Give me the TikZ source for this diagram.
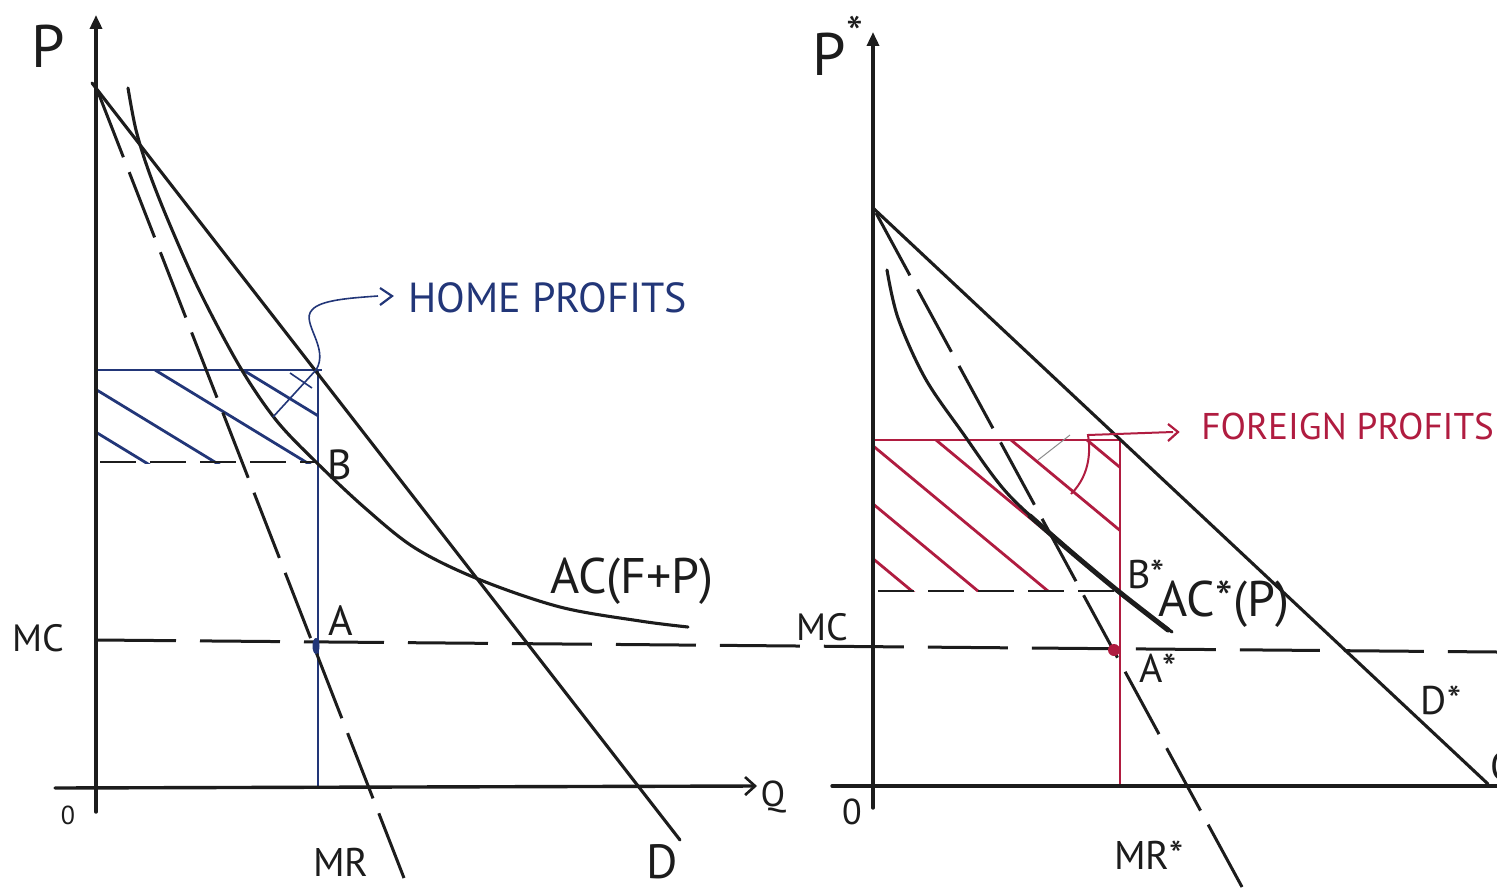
\documentclass[tikz,border=0pt]{standalone}
\usepackage{fontspec}
\setmainfont{PT Sans}
\usetikzlibrary{arrows.meta}
\definecolor{homeblue}{RGB}{34,54,120}
\definecolor{forred}{RGB}{176,28,64}
\definecolor{ink}{RGB}{28,28,28}
\begin{document}
\begin{tikzpicture}[x=0.5pt,y=-0.5pt,
  axisline/.style={line width=1.7pt, draw=ink, line cap=round},
  curveline/.style={line width=1.55pt, draw=ink, line cap=round},
  mrdash/.style={line width=1.5pt, draw=ink, dash pattern=on 35pt off 8pt},
  mrsdash/.style={line width=1.5pt, draw=ink, dash pattern=on 35.5pt off 8pt},
  mcdash/.style={line width=1.5pt, draw=ink, dash pattern=on 40pt off 12pt},
  shortdash/.style={line width=1.4pt, draw=ink, dash pattern=on 18pt off 7pt},
  blueline/.style={line width=1.4pt, draw=homeblue},
  redline/.style={line width=1.4pt, draw=forred},
  lab/.style={inner sep=0pt, text=ink},
  bluelab/.style={inner sep=0pt, text=homeblue},
  redlab/.style={inner sep=0pt, text=forred},
  uptip/.style={-{Triangle[length=7pt,width=6pt]}},
  barb/.style={-{Straight Barb[length=5pt,width=9pt,line width=1.3pt]}}
]
\useasboundingbox (0,0) rectangle (1497,893);
\fill[white] (0,0) rectangle (1497,893);

% ---------------- key coordinates ----------------
\coordinate (Lbot) at (96,812);
\coordinate (Ltop) at (96,15);
\coordinate (Lxs) at (55,788);
\coordinate (Lxe) at (757,786);
\coordinate (Rbot) at (873,808);
\coordinate (Rtop) at (873,32);
\coordinate (Rxs) at (832,786);
\coordinate (Rxe) at (1497,786);
\coordinate (MCs) at (96,640);
\coordinate (MCe) at (1497,652);
\coordinate (Ds) at (92,83);
\coordinate (De) at (680,840);
\coordinate (MRs) at (98,92);
\coordinate (MRe) at (404,878);
\coordinate (Dss) at (873,208);
\coordinate (Dse) at (1488,784);
\coordinate (MRss) at (876,213);
\coordinate (MRse) at (1242,887);
\coordinate (ptB) at (316,462);
\coordinate (ptA) at (316,646);
\coordinate (ptBs) at (1118,591);
\coordinate (ptAs) at (1114,650);

% ---------------- MC line (across both panels) ----------------
\draw[mcdash] (MCs) -- (MCe);

% ---------------- left panel ----------------
% blue hatching (home profits)
\begin{scope}
  \clip (96,370) rectangle (318,463);
  \foreach \x in {-6,64,155,243}
    \draw[blueline] (\x,370) -- ++(200,122);
\end{scope}
\draw[blueline] (96,370) -- (322,370);
\draw[blueline] (318,370) -- (318,788);
\draw[shortdash] (100,462) -- (ptB);

% axes
\draw[axisline,uptip] (Lbot) -- (Ltop);
\draw[axisline,barb] (Lxs) -- (Lxe);

% demand, MR, AC
\draw[curveline] (Ds) -- (De);
\draw[mrdash] (MRs) -- (MRe);
\draw[curveline] plot[smooth, tension=0.55] coordinates {(128,88) (136,130) (149,172) (170,225) (200,292) (240,367) (276,420) (316,462) (365,508) (415,548) (478,579) (560,607) (640,621) (688,627)};

% point A
\fill[homeblue] (ptA) ellipse (3.5 and 8);

% home profits arrow
\draw[homeblue, line width=0.8pt] (273,417) -- (316,370) .. controls (330,348) and (300,322) .. (312,310) .. controls (320,300) and (350,298) .. (378,296);
\draw[homeblue, line width=0.8pt] (290,373) -- (312,388);
\draw[homeblue, line width=1.1pt] (380,288) -- (392,296) -- (380,305);

% labels left
\node[lab, font=\fontsize{30}{30}\selectfont] (Plab) at (48,46) {P};
\node[lab, font=\fontsize{13}{13}\selectfont] (O1lab) at (68,815) {0};
\node[lab, font=\fontsize{19}{19}\selectfont] (MC1lab) at (38,638) {MC};
\node[lab, font=\fontsize{21}{21}\selectfont] (Alab) at (341,621) {A};
\node[lab, font=\fontsize{21}{21}\selectfont] (Blab) at (340,465) {B};
\node[lab, font=\fontsize{25}{25}\selectfont] (AClab) at (632,581) {AC(F+P)};
\node[lab, font=\fontsize{20}{20}\selectfont] (MRlab) at (341,862) {MR};
\node[lab, font=\fontsize{24}{24}\selectfont] (Dlab) at (662,862) {D};
\node[lab, font=\fontsize{18}{18}\selectfont] (Qlab) at (773,797) {Q};
\node[bluelab, font=\fontsize{21}{21}\selectfont, anchor=west] (homelab) at (408,298) {HOME PROFITS};

% ---------------- right panel ----------------
% red hatching (foreign profits)
\begin{scope}
  \clip (873,440) rectangle (1120,591);
  \foreach \x in {730,796,866,936,1011,1087}
    \draw[redline] (\x,440) -- ++(250,207.5);
\end{scope}
\draw[redline] (873,440) -- (1122,440);
\draw[redline] (1120,440) -- (1120,786);
\draw[shortdash] (878,591) -- (ptBs);

% axes
\draw[axisline,uptip] (Rbot) -- (Rtop);
\draw[axisline] (Rxs) -- (Rxe);

% demand, MR, AC
\draw[curveline] (Dss) -- (Dse);
\draw[mrsdash] (MRss) -- (MRse);
\draw[curveline] plot[smooth, tension=0.55] coordinates {(887,270) (898,318) (925,378) (962,432) (1007,493) (1064,545) (1118,591) (1172,632)};
\draw[line width=2.5pt, draw=ink, line cap=round] plot[smooth, tension=0.5] coordinates {(1030,516) (1070,551) (1118,591) (1168,630)};

% point A*
\fill[forred] (ptAs) circle (6);

% foreign profits arrow
\draw[black!45, line width=0.5pt] (1038,460) -- (1070,435);
\draw[forred, line width=1pt] (1071,494) .. controls (1085,480) and (1092,460) .. (1088,435) -- (1173,432);
\draw[forred, line width=1.1pt] (1168,424) -- (1178,432) -- (1168,441);

% labels right
\node[lab, font=\fontsize{30}{30}\selectfont] (Pslab) at (838,46) {P\raisebox{0.42em}{\fontsize{24}{24}\selectfont *}};
\node[lab, font=\fontsize{18}{18}\selectfont] (O2lab) at (852,812) {0};
\node[lab, font=\fontsize{19}{19}\selectfont] (MC2lab) at (822,627) {MC};
\node[lab, font=\fontsize{20}{20}\selectfont] (Bslab) at (1146,574) {B*};
\node[lab, font=\fontsize{20}{20}\selectfont] (Aslab) at (1158,668) {A*};
\node[lab, font=\fontsize{25}{25}\selectfont] (ACslab) at (1224,604) {AC*(P)};
\node[lab, font=\fontsize{20}{20}\selectfont] (MRslab) at (1149,855) {MR*};
\node[lab, font=\fontsize{20}{20}\selectfont] (Dslab) at (1441,700) {D*};
\node[lab, font=\fontsize{20}{20}\selectfont, anchor=west] (Qslab) at (1490,770) {Q*};
\node[redlab, font=\fontsize{18.6}{18.6}\selectfont, anchor=west] (forlab) at (1201,426) {FOREIGN PROFITS};
\end{tikzpicture}
\end{document}
